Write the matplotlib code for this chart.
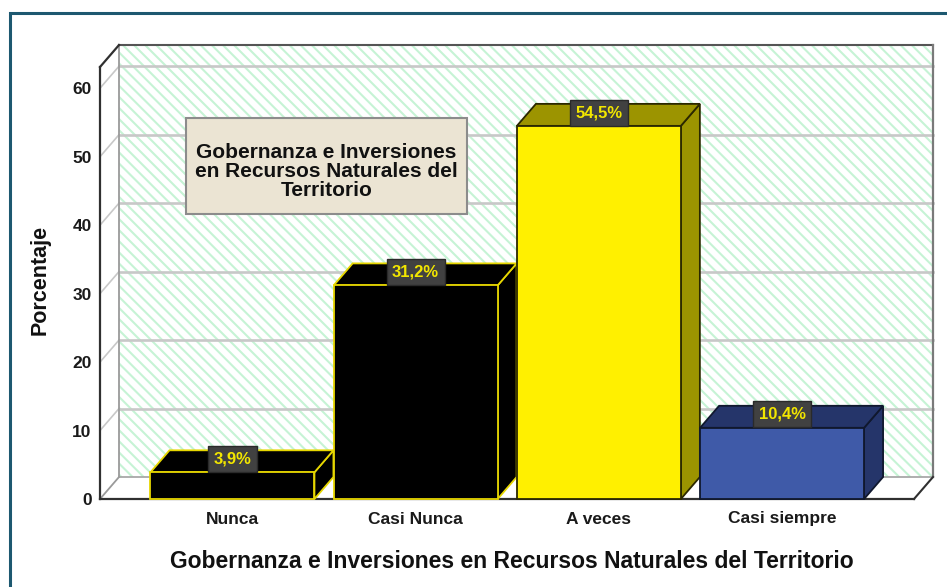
import matplotlib
matplotlib.use('Agg')
import matplotlib.pyplot as plt
from matplotlib.patches import Rectangle, Polygon
from matplotlib.lines import Line2D
import numpy as np

# ---------------- data ----------------
categories = ['Nunca', 'Casi Nunca', 'A veces', 'Casi siempre']
values = [3.9, 31.2, 54.5, 10.4]
value_labels = ['3,9%', '31,2%', '54,5%', '10,4%']
yticks = [0, 10, 20, 30, 40, 50, 60]
box_title = 'Gobernanza e Inversiones\nen Recursos Naturales del\nTerritorio'
xlabel = 'Gobernanza e Inversiones en Recursos Naturales del Territorio'
ylabel = 'Porcentaje'

# ---------------- styles ----------------
face_colors = ['#000000', '#000000', '#fff000', '#3f5aa8']
shade_colors = ['#000000', '#000000', '#9c9400', '#25356a']
edge_colors = ['#e6d600', '#e6d600', '#2b2800', '#10182e']
FONT = ['Liberation Sans', 'DejaVu Sans']
plt.rcParams['font.family'] = FONT
plt.rcParams['hatch.linewidth'] = 1.5

W, H = 947, 587
fig = plt.figure(figsize=(W / 100, H / 100), dpi=100)
fig.patch.set_facecolor('white')

# outer frame
fig.add_artist(Rectangle((10 / W, -0.2), 1.2, 1.2 - 13 / H,
                         transform=fig.transFigure, fill=False,
                         edgecolor='#1d5870', linewidth=2.2))

ax = fig.add_axes([100 / W, 1 - 499 / H, (914 - 100) / W, (499 - 67) / H])
XMIN, XMAX = -0.723, 3.72
YMAX = 63.1
ax.set_xlim(XMIN, XMAX)
ax.set_ylim(0, YMAX)
ax.patch.set_visible(False)
for s in ax.spines.values():
    s.set_visible(False)

# depth of the 3D effect (pixels) -> data units
DEPTH_PX = (19, 22)
inv = ax.transData.inverted()
o = ax.transData.transform((0, 0))
dx, dy = inv.transform(o + np.array(DEPTH_PX))

# ---------------- back wall ----------------
wall = Rectangle((XMIN + dx, dy), XMAX - XMIN, YMAX, facecolor='white',
                 edgecolor='#c6f3d5', hatch='\\\\\\', linewidth=0,
                 clip_on=False, zorder=0)
ax.add_patch(wall)

grid_c = '#c8c8c8'
for v in yticks[1:]:
    ax.add_line(Line2D([XMIN + dx, XMAX + dx], [v + dy, v + dy], color=grid_c,
                       lw=1.9, clip_on=False, zorder=1))
    ax.add_line(Line2D([XMIN, XMIN + dx], [v, v + dy], color=grid_c,
                       lw=1.2, clip_on=False, zorder=1))

# wall borders
ax.add_line(Line2D([XMIN + dx, XMIN + dx], [dy, YMAX + dy], color='#9a9a9a',
                   lw=1.3, clip_on=False, zorder=2))
ax.add_line(Line2D([XMIN + dx, XMAX + dx], [YMAX + dy, YMAX + dy], color='#555555',
                   lw=1.5, clip_on=False, zorder=2))
ax.add_line(Line2D([XMAX + dx, XMAX + dx], [dy, YMAX + dy], color='#7a7a7a',
                   lw=1.6, clip_on=False, zorder=2))

# floor
floor = Polygon([(XMIN, 0), (XMAX, 0), (XMAX + dx, dy), (XMIN + dx, dy)],
                closed=True, facecolor='white', edgecolor='none',
                clip_on=False, zorder=1)
ax.add_patch(floor)
ax.add_line(Line2D([XMIN + dx, XMAX + dx], [dy, dy], color='#a8a8a8',
                   lw=1.3, clip_on=False, zorder=2))
ax.add_line(Line2D([XMIN, XMIN + dx], [0, dy], color='#9a9a9a',
                   lw=1.3, clip_on=False, zorder=2))
ax.add_line(Line2D([XMAX, XMAX + dx], [0, dy], color='#303030',
                   lw=1.5, clip_on=False, zorder=2))
ax.add_line(Line2D([XMIN, XMAX], [0, 0], color='#303030',
                   lw=1.6, clip_on=False, zorder=2))
# front y axis
ax.add_line(Line2D([XMIN, XMIN], [0, YMAX], color='#303030',
                   lw=1.6, clip_on=False, zorder=2))
ax.add_line(Line2D([XMIN, XMIN + dx], [YMAX, YMAX + dy], color='#303030',
                   lw=1.6, clip_on=False, zorder=2))

# ---------------- bars ----------------
BW = 0.895
for i, (v, fc, sc, ec) in enumerate(zip(values, face_colors, shade_colors, edge_colors)):
    x0, x1 = i - BW / 2, i + BW / 2
    side = Polygon([(x1, 0), (x1, v), (x1 + dx, v + dy), (x1 + dx, dy)], closed=True,
                   facecolor=sc, edgecolor=ec, lw=1.3, joinstyle='miter',
                   clip_on=False, zorder=3)
    top = Polygon([(x0, v), (x1, v), (x1 + dx, v + dy), (x0 + dx, v + dy)], closed=True,
                  facecolor=sc, edgecolor=ec, lw=1.3, joinstyle='miter',
                  clip_on=False, zorder=3)
    front = Rectangle((x0, 0), BW, v, facecolor=fc, edgecolor=ec, lw=1.3,
                      joinstyle='miter', clip_on=False, zorder=4)
    ax.add_patch(side)
    ax.add_patch(top)
    ax.add_patch(front)
    ax.annotate(value_labels[i], (i, v), xytext=(0, 4.2), textcoords='offset points',
                ha='center', va='bottom', fontsize=12, fontweight='bold',
                color='#f2e600', zorder=6, annotation_clip=False,
                bbox=dict(boxstyle='square,pad=0.33', facecolor='#414141',
                          edgecolor='#2a2a2a', lw=1.0))

# ---------------- title box ----------------
fig.add_artist(Rectangle((186 / W, 1 - 214 / H), 281 / W, 96 / H,
                         transform=fig.transFigure, facecolor='#ebe4d3',
                         edgecolor='#8c8c8c', lw=1.5, zorder=5))
fig.text(326.5 / W, 1 - 171.5 / H, box_title, ha='center', va='center',
         fontsize=15, fontweight='bold', color='#111111', linespacing=1.02,
         zorder=6)

# ---------------- ticks & labels ----------------
ax.set_yticks(yticks)
ax.set_yticklabels([str(t) for t in yticks], fontsize=12.5, fontweight='bold',
                   color='#1a1a1a')
ax.set_xticks(range(len(categories)))
ax.set_xticklabels(categories, fontsize=12.5, fontweight='bold', color='#1a1a1a')
ax.tick_params(axis='y', length=0, pad=6)
ax.tick_params(axis='x', length=0, pad=9)

fig.text(512 / W, 1 - 561 / H, xlabel, ha='center', va='center',
         fontsize=16.5, color='#111111', fontweight='bold')
fig.text(40 / W, 1 - 280 / H, ylabel, ha='center', va='center', rotation=90,
         fontsize=15.5, fontweight='bold', color='#111111')

fig.savefig('out.png', dpi=100, facecolor='white')
